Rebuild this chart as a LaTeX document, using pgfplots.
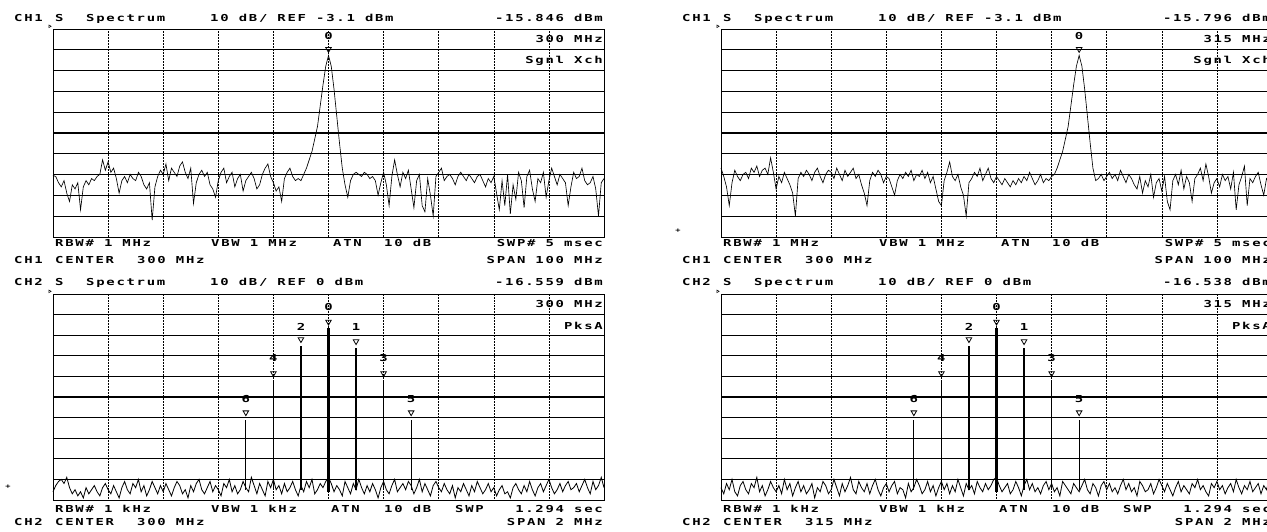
\documentclass[border=0pt]{standalone}
\usepackage{pgfplots}
\pgfplotsset{compat=1.18}
\usepackage{pgfplotstable}
\usepackage{fontspec}
\setmainfont{DejaVu Sans Mono}
\newfontfamily\pltfam[FakeStretch=1.45,LetterSpace=18]{DejaVu Sans Mono}
\newcommand\plt{\pltfam\bfseries\fontsize{9.6}{11}\selectfont}
\newcommand\tx[3]{\node[anchor=base west,inner sep=0pt,font=\plt] at (#1,#2) {#3};}
\newcommand\txr[3]{\node[anchor=base east,inner sep=0pt,font=\plt] at (#1,#2) {#3};}

% Top-left trace: 250-350 MHz, 0.5 MHz per point (index 0..200)
\pgfplotstableread[row sep=\\]{
y\\
-73.5\\ -74\\ -77\\ -79\\ -76\\ -82\\ -86\\ -78\\ -80\\ -77\\
-90\\ -79\\ -76\\ -78\\ -75\\ -76\\ -74\\ -73\\ -66\\ -71\\
-67\\ -72\\ -70\\ -75\\ -82\\ -76\\ -74\\ -77\\ -73\\ -75\\
-76\\ -72\\ -74\\ -78\\ -80\\ -77\\ -95\\ -79\\ -74\\ -71\\
-73\\ -68\\ -76\\ -70\\ -72\\ -74\\ -69\\ -67\\ -72\\ -75\\
-70\\ -87\\ -77\\ -73\\ -71\\ -74\\ -72\\ -78\\ -80\\ -84\\
-76\\ -72\\ -70\\ -77\\ -74\\ -72\\ -79\\ -75\\ -73\\ -81\\
-76\\ -74\\ -72\\ -75\\ -80\\ -78\\ -73\\ -70\\ -68\\ -74\\
-77\\ -81\\ -79\\ -86\\ -75\\ -72\\ -70\\ -74\\ -76\\ -75\\
-76\\ -73\\ -70\\ -66\\ -62\\ -56\\ -50\\ -40\\ -30\\ -21\\
-15.8\\
-21\\ -32\\ -45\\ -58\\ -70\\ -78\\ -84\\ -76\\ -73\\
-72\\ -73\\ -74\\ -72\\ -73\\ -75\\ -74\\ -76\\ -83\\ -77\\
-72\\ -78\\ -88\\ -74\\ -66\\ -73\\ -79\\ -72\\ -75\\ -71\\
-80\\ -89\\ -76\\ -73\\ -88\\ -91\\ -75\\ -83\\ -93\\ -74\\
-72\\ -70\\ -76\\ -74\\ -73\\ -75\\ -78\\ -74\\ -72\\ -74\\
-76\\ -73\\ -75\\ -77\\ -74\\ -73\\ -76\\ -79\\ -75\\ -77\\
-74\\ -82\\ -90\\ -76\\ -88\\ -73\\ -92\\ -78\\ -85\\ -72\\
-76\\ -89\\ -74\\ -71\\ -80\\ -86\\ -75\\ -77\\ -72\\ -84\\
-76\\ -70\\ -74\\ -78\\ -73\\ -75\\ -77\\ -88\\ -79\\ -72\\
-75\\ -74\\ -70\\ -76\\ -78\\ -77\\ -74\\ -80\\ -93\\ -77\\
-75\\
}\tlA

% Top-right trace
\pgfplotstableread[row sep=\\]{
y\\
-70\\ -74\\ -79\\ -88\\ -77\\ -71\\ -74\\ -76\\ -73\\ -72\\
-75\\ -70\\ -72\\ -69\\ -74\\ -71\\ -70\\ -73\\ -65\\ -72\\
-80\\ -74\\ -77\\ -72\\ -75\\ -78\\ -82\\ -93\\ -75\\ -72\\
-74\\ -71\\ -73\\ -76\\ -72\\ -70\\ -74\\ -77\\ -73\\ -71\\
-72\\ -75\\ -70\\ -73\\ -76\\ -71\\ -74\\ -72\\ -70\\ -75\\
-73\\ -78\\ -82\\ -88\\ -76\\ -72\\ -74\\ -71\\ -73\\ -77\\
-74\\ -75\\ -79\\ -83\\ -76\\ -73\\ -75\\ -72\\ -74\\ -71\\
-76\\ -73\\ -74\\ -71\\ -75\\ -72\\ -77\\ -74\\ -80\\ -86\\
-88\\ -76\\ -72\\ -67\\ -74\\ -76\\ -73\\ -79\\ -83\\ -93\\
-77\\ -75\\ -72\\ -74\\ -70\\ -76\\ -73\\ -70\\ -75\\ -77\\
-74\\ -76\\ -78\\ -75\\ -77\\ -79\\ -76\\ -78\\ -75\\ -77\\
-74\\ -76\\ -72\\ -75\\ -78\\ -76\\ -73\\ -77\\ -75\\ -76\\
-74\\ -73\\ -70\\ -66\\ -62\\ -56\\ -50\\ -40\\ -30\\ -21\\
-15.8\\
-21\\ -32\\ -45\\ -58\\ -70\\ -76\\ -75\\ -73\\ -76\\
-74\\ -72\\ -75\\ -73\\ -76\\ -71\\ -74\\ -77\\ -73\\ -75\\
-78\\ -80\\ -74\\ -82\\ -76\\ -79\\ -73\\ -84\\ -77\\ -75\\
-81\\ -74\\ -86\\ -90\\ -76\\ -73\\ -78\\ -71\\ -80\\ -74\\
-77\\ -86\\ -75\\ -73\\ -70\\ -76\\ -68\\ -74\\ -82\\ -77\\
-75\\ -79\\ -73\\ -76\\ -74\\ -80\\ -72\\ -90\\ -78\\ -74\\
-69\\ -88\\ -75\\ -77\\ -74\\ -72\\ -78\\ -83\\ -75\\ -77\\
-72\\
}\trA

% Bottom-left noise: 299-301 MHz, 10 kHz per point
\pgfplotstableread[row sep=\\]{
y\\
-96\\ -93\\ -91\\ -90\\ -92\\ -89\\ -94\\ -97\\ -95\\ -98\\
-96\\ -99\\ -94\\ -97\\ -95\\ -93\\ -96\\ -98\\ -94\\ -92\\
-95\\ -97\\ -93\\ -96\\ -99\\ -94\\ -91\\ -95\\ -97\\ -92\\
-94\\ -90\\ -96\\ -93\\ -98\\ -95\\ -91\\ -94\\ -97\\ -93\\
-96\\ -92\\ -95\\ -98\\ -94\\ -91\\ -93\\ -97\\ -95\\ -99\\
-93\\ -96\\ -92\\ -90\\ -95\\ -97\\ -94\\ -91\\ -96\\ -93\\
-95\\ -98\\ -92\\ -94\\ -90\\ -96\\ -93\\ -97\\ -95\\ -91\\
-94\\ -96\\ -89\\ -93\\ -97\\ -92\\ -95\\ -98\\ -91\\ -94\\
-90\\ -95\\ -93\\ -97\\ -92\\ -96\\ -94\\ -91\\ -95\\ -98\\
-93\\ -96\\ -91\\ -94\\ -90\\ -97\\ -95\\ -92\\ -94\\ -91\\
-89\\ -92\\ -96\\ -93\\ -95\\ -98\\ -91\\ -94\\ -97\\ -92\\
-95\\ -90\\ -94\\ -97\\ -93\\ -96\\ -92\\ -95\\ -99\\ -94\\
-91\\ -95\\ -97\\ -93\\ -90\\ -96\\ -94\\ -92\\ -95\\ -91\\
-93\\ -97\\ -94\\ -90\\ -96\\ -92\\ -95\\ -98\\ -93\\ -91\\
-94\\ -96\\ -92\\ -95\\ -97\\ -93\\ -99\\ -94\\ -96\\ -92\\
-95\\ -98\\ -93\\ -96\\ -91\\ -94\\ -97\\ -95\\ -92\\ -96\\
-94\\ -98\\ -95\\ -93\\ -97\\ -96\\ -99\\ -94\\ -92\\ -95\\
-97\\ -93\\ -96\\ -91\\ -95\\ -98\\ -94\\ -92\\ -96\\ -93\\
-90\\ -94\\ -97\\ -95\\ -92\\ -96\\ -93\\ -91\\ -95\\ -94\\
-92\\ -96\\ -93\\ -90\\ -94\\ -97\\ -91\\ -95\\ -93\\ -89\\
-94\\
}\blA

% Bottom-right noise: 314-316 MHz
\pgfplotstableread[row sep=\\]{
y\\
-94\\ -97\\ -92\\ -95\\ -90\\ -96\\ -98\\ -93\\ -91\\ -95\\
-97\\ -92\\ -94\\ -89\\ -96\\ -93\\ -98\\ -95\\ -91\\ -94\\
-96\\ -93\\ -97\\ -90\\ -95\\ -92\\ -98\\ -94\\ -91\\ -96\\
-93\\ -97\\ -95\\ -92\\ -99\\ -94\\ -96\\ -91\\ -93\\ -97\\
-95\\ -90\\ -94\\ -98\\ -92\\ -96\\ -93\\ -89\\ -95\\ -97\\
-91\\ -94\\ -96\\ -92\\ -97\\ -93\\ -90\\ -95\\ -98\\ -94\\
-92\\ -96\\ -93\\ -91\\ -97\\ -94\\ -95\\ -99\\ -92\\ -96\\
-94\\ -90\\ -93\\ -97\\ -95\\ -91\\ -96\\ -93\\ -98\\ -94\\
-91\\ -95\\ -92\\ -97\\ -93\\ -96\\ -90\\ -94\\ -98\\ -92\\
-95\\ -93\\ -97\\ -91\\ -94\\ -96\\ -92\\ -95\\ -93\\ -90\\
-89\\ -93\\ -96\\ -94\\ -92\\ -97\\ -95\\ -91\\ -94\\ -98\\
-93\\ -90\\ -95\\ -92\\ -96\\ -94\\ -97\\ -93\\ -91\\ -95\\
-92\\ -96\\ -94\\ -98\\ -91\\ -93\\ -95\\ -97\\ -92\\ -94\\
-96\\ -93\\ -90\\ -95\\ -97\\ -92\\ -94\\ -98\\ -93\\ -91\\
-95\\ -92\\ -96\\ -94\\ -97\\ -93\\ -90\\ -95\\ -92\\ -96\\
-94\\ -98\\ -91\\ -93\\ -96\\ -95\\ -92\\ -97\\ -94\\ -90\\
-93\\ -96\\ -92\\ -95\\ -98\\ -94\\ -91\\ -96\\ -93\\ -95\\
-97\\ -92\\ -94\\ -90\\ -95\\ -93\\ -96\\ -98\\ -92\\ -94\\
-91\\ -95\\ -93\\ -97\\ -94\\ -92\\ -96\\ -90\\ -94\\ -97\\
-93\\ -95\\ -91\\ -96\\ -94\\ -92\\ -97\\ -93\\ -95\\ -90\\
-94\\
}\brA

\pgfplotsset{
  spec/.style={scale only axis, width=551pt, xmin=0, xmax=200,
    xtick={0,20,...,200}, xticklabels={}, yticklabels={},
    major tick length=0pt, grid=major,
    x grid style={black,line width=0.5pt,densely dotted},
    y grid style={black,line width=1.3pt},
    axis line style={black,line width=0.7pt},
    clip=false, anchor=south west},
  sptop/.style={spec, height=208pt, ymin=-103.1, ymax=-3.1,
    ytick={-93.1,-83.1,-73.1,-63.1,-53.1,-43.1,-33.1,-23.1,-13.1}},
  spbot/.style={spec, height=206pt, ymin=-100, ymax=0,
    ytick={-90,-80,-70,-60,-50,-40,-30,-20,-10}},
  trace/.style={black, line width=0.65pt, mark=none},
  mk/.style={only marks, mark=triangle, mark size=3.2pt, mark options={rotate=180, black, line width=0.8pt}},
  refmk/.style={only marks, mark=triangle, mark size=1.5pt, mark options={rotate=-90, black, line width=0.5pt}},
  spike/.style={black, line width=1.4pt},
}

\begin{document}
\begin{tikzpicture}
\useasboundingbox (0,0) rectangle (1267pt,531pt);
\clip (0,0) rectangle (1267pt,531pt);

% ---- top left ----
\begin{axis}[sptop, at={(53pt,294pt)}]
\addplot[trace] table[x expr=\coordindex, y=y] {\tlA};
\addplot[mk] coordinates {(100,-12.8)};
\addplot[refmk] coordinates {(-1.2,-1.8)};
\node[font=\plt] at (axis cs:100,-6.3) {0};
\end{axis}

% ---- top right ----
\begin{axis}[sptop, at={(721pt,294pt)}]
\addplot[trace] table[x expr=\coordindex, y=y] {\trA};
\addplot[mk] coordinates {(130,-12.8)};
\addplot[refmk] coordinates {(-1.2,-1.8)};
\node[font=\plt] at (axis cs:130,-6.3) {0};
\end{axis}

% ---- bottom left ----
\begin{axis}[spbot, at={(53pt,31pt)}]
\addplot[trace, line width=0.8pt] table[x expr=\coordindex, y=y] {\blA};
\addplot[black, line width=2.2pt] coordinates {(100,-96) (100,-16.6)};
\addplot[spike] coordinates {(90,-95) (90,-25)};
\addplot[spike] coordinates {(110,-95) (110,-26)};
\addplot[spike] coordinates {(80,-95) (80,-42)};
\addplot[spike] coordinates {(120,-95) (120,-42)};
\addplot[spike, line width=1pt] coordinates {(70,-95) (70,-61)};
\addplot[spike, line width=1pt] coordinates {(130,-95) (130,-61)};
\addplot[mk] coordinates {(100,-13.5) (90,-22) (110,-23) (80,-38.5) (120,-38.5) (70,-57.5) (130,-57.5)};
\addplot[refmk] coordinates {(-1.2,1.3)};
\node[font=\plt] at (axis cs:100,-6.5) {0};
\node[font=\plt] at (axis cs:90,-16) {2};
\node[font=\plt] at (axis cs:110,-16) {1};
\node[font=\plt] at (axis cs:80,-31) {4};
\node[font=\plt] at (axis cs:120,-31) {3};
\node[font=\plt] at (axis cs:70,-51) {6};
\node[font=\plt] at (axis cs:130,-51) {5};
\end{axis}

% ---- bottom right ----
\begin{axis}[spbot, at={(721pt,31pt)}]
\addplot[trace, line width=0.8pt] table[x expr=\coordindex, y=y] {\brA};
\addplot[black, line width=2.2pt] coordinates {(100,-96) (100,-16.5)};
\addplot[spike] coordinates {(90,-95) (90,-25)};
\addplot[spike] coordinates {(110,-95) (110,-26)};
\addplot[spike] coordinates {(80,-95) (80,-42)};
\addplot[spike] coordinates {(120,-95) (120,-42)};
\addplot[spike, line width=1pt] coordinates {(70,-95) (70,-61)};
\addplot[spike, line width=1pt] coordinates {(130,-95) (130,-61)};
\addplot[mk] coordinates {(100,-13.5) (90,-22) (110,-23) (80,-38.5) (120,-38.5) (70,-57.5) (130,-57.5)};
\addplot[refmk] coordinates {(-1.2,1.3)};
\node[font=\plt] at (axis cs:100,-6.5) {0};
\node[font=\plt] at (axis cs:90,-16) {2};
\node[font=\plt] at (axis cs:110,-16) {1};
\node[font=\plt] at (axis cs:80,-31) {4};
\node[font=\plt] at (axis cs:120,-31) {3};
\node[font=\plt] at (axis cs:70,-51) {6};
\node[font=\plt] at (axis cs:130,-51) {5};
\end{axis}

% ---- texts (image pixel coordinates, y downward) ----
\begin{scope}[shift={(0,531pt)}, x=1pt, y=-1pt]
% top left
\tx{14}{21.5}{CH1}\tx{55}{21.5}{S}\tx{86}{21.5}{Spectrum}
\tx{210}{21.5}{10 dB/ REF -3.1 dBm}\txr{603}{21.5}{-15.846 dBm}
\txr{603}{43}{300 MHz}\txr{603}{64}{Sgnl Xch}
\tx{55}{247}{RBW\# 1 MHz}\tx{211}{247}{VBW 1 MHz}\tx{333}{247}{ATN}\tx{384}{247}{10 dB}
\txr{603}{247}{SWP\# 5 msec}
\tx{14}{263.5}{CH1}\tx{55}{263.5}{CENTER}\tx{137}{263.5}{300 MHz}\txr{603}{263.5}{SPAN 100 MHz}
% bottom left
\tx{14}{285.5}{CH2}\tx{55}{285.5}{S}\tx{86}{285.5}{Spectrum}
\tx{210}{285.5}{10 dB/ REF 0 dBm}\txr{603}{285.5}{-16.559 dBm}
\txr{603}{308}{300 MHz}\txr{603}{329}{PksA}
\tx{55}{512}{RBW\# 1 kHz}\tx{211}{512}{VBW 1 kHz}\tx{331}{512}{ATN}\tx{384}{512}{10 dB}
\tx{455}{512}{SWP}\txr{603}{512}{1.294 sec}
\tx{14}{525}{CH2}\tx{55}{525}{CENTER}\tx{137}{525}{300 MHz}\txr{603}{525}{SPAN 2 MHz}
\node[font=\plt\fontsize{6}{7}\selectfont] at (8,487) {+};
% top right
\tx{682}{21.5}{CH1}\tx{723}{21.5}{S}\tx{754}{21.5}{Spectrum}
\tx{878}{21.5}{10 dB/ REF -3.1 dBm}\txr{1271}{21.5}{-15.796 dBm}
\txr{1271}{43}{315 MHz}\txr{1271}{64}{Sgnl Xch}
\tx{723}{247}{RBW\# 1 MHz}\tx{879}{247}{VBW 1 MHz}\tx{1001}{247}{ATN}\tx{1052}{247}{10 dB}
\txr{1271}{247}{SWP\# 5 msec}
\tx{682}{263.5}{CH1}\tx{723}{263.5}{CENTER}\tx{805}{263.5}{300 MHz}\txr{1271}{263.5}{SPAN 100 MHz}
\node[font=\plt\fontsize{6}{7}\selectfont] at (678,231) {+};
% bottom right
\tx{682}{285.5}{CH2}\tx{723}{285.5}{S}\tx{754}{285.5}{Spectrum}
\tx{878}{285.5}{10 dB/ REF 0 dBm}\txr{1271}{285.5}{-16.538 dBm}
\txr{1271}{308}{315 MHz}\txr{1271}{329}{PksA}
\tx{723}{512}{RBW\# 1 kHz}\tx{879}{512}{VBW 1 kHz}\tx{999}{512}{ATN}\tx{1052}{512}{10 dB}
\tx{1123}{512}{SWP}\txr{1271}{512}{1.294 sec}
\tx{682}{525}{CH2}\tx{723}{525}{CENTER}\tx{805}{525}{315 MHz}\txr{1271}{525}{SPAN 2 MHz}
\end{scope}
\end{tikzpicture}
\end{document}
